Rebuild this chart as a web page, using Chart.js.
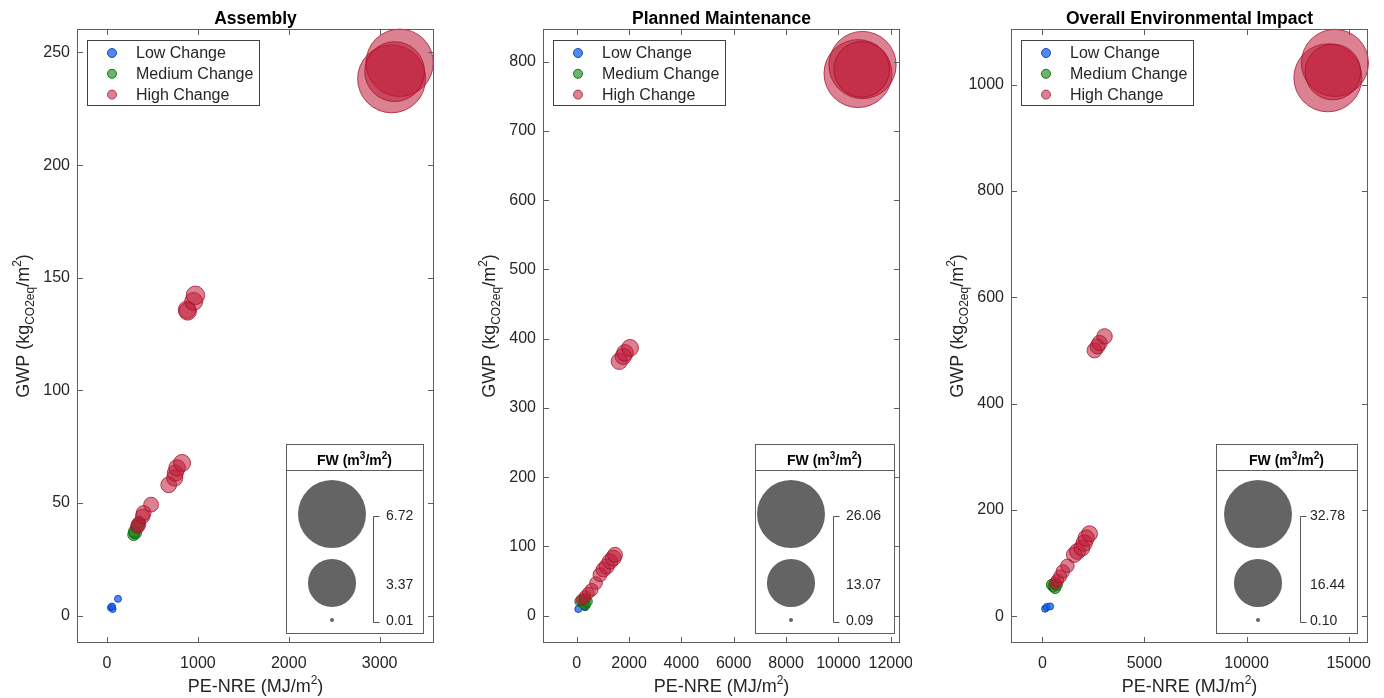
<!DOCTYPE html>
<html>
<head>
<meta charset="utf-8">
<script src="https://cdn.jsdelivr.net/npm/chart.js@4.4.1/dist/chart.umd.min.js"></script>
<style>
  body { margin: 0; background: #fff; width: 1384px; height: 698px; overflow: hidden; position: relative; }
  canvas { position: absolute; top: 0; }
</style>
</head>
<body>
<canvas id="c1" width="439" height="698" style="left:7px"></canvas>
<canvas id="c2" width="439" height="698" style="left:473px"></canvas>
<canvas id="c3" width="439" height="698" style="left:941px"></canvas>
<script>
const FONT = '"Liberation Sans", Arial, Helvetica, sans-serif';

const seriesNames = ["Low Change", "Medium Change", "High Change"];
const panelTitles = ["Assembly", "Planned Maintenance", "Overall Environmental Impact"];

// points are [PE-NRE, GWP, FW]
const asmLow = [[40, 3.6, 0.06], [62, 3.0, 0.07], [55, 4.1, 0.07], [121, 7.5, 0.07]];
const asmMedium = [[293, 36.0, 0.2], [312, 36.8, 0.22], [301, 37.4, 0.2], [330, 39.5, 0.21], [355, 41.5, 0.2]];
const asmHigh = [
  [337, 39.6, 0.28], [348, 40.6, 0.3], [392, 44.1, 0.3], [403, 45.6, 0.32], [485, 49.3, 0.32],
  [679, 58.1, 0.36], [745, 61.1, 0.38], [752, 63.3, 0.38], [771, 65.6, 0.4], [826, 67.8, 0.42],
  [881, 135.8, 0.45], [888, 135.1, 0.45], [954, 139.5, 0.47], [973, 142.2, 0.5],
  [3132, 238.3, 6.72], [3220, 245.4, 6.6], [3165, 241.5, 5.2]
];
const asmFwTicks = [6.72, 3.37, 0.01];
const asmXTicks = [0, 1000, 2000, 3000];
const asmYTicks = [0, 50, 100, 150, 200, 250];

const pmLow = [[61, 9.7, 0.28], [318, 12.5, 0.3], [290, 14.5, 0.28]];
const pmMedium = [[127, 20.7, 0.6], [254, 18.3, 0.65], [318, 15.9, 0.65], [382, 20.7, 0.7], [300, 24.0, 0.7]];
const pmHigh = [
  [191, 23.1, 0.7], [318, 27.9, 0.75], [445, 32.8, 0.8], [573, 37.5, 0.9], [738, 47.2, 0.9],
  [891, 59.2, 1.1], [1018, 66.4, 1.2], [1146, 71.2, 1.3], [1273, 78.4, 1.35], [1399, 83.3, 1.4], [1464, 88.0, 1.25],
  [1628, 367.2, 1.5], [1781, 374.4, 1.5], [1846, 379.4, 1.55], [2037, 386.6, 1.6],
  [10749, 782.7, 26.06], [10921, 795.0, 25.5], [10890, 788.7, 17.5]
];
const pmFwTicks = [26.06, 13.07, 0.09];
const pmXTicks = [0, 2000, 4000, 6000, 8000, 10000, 12000];
const pmYTicks = [0, 100, 200, 300, 400, 500, 600, 700, 800];

const oeiLow = [[133, 14.5, 0.35], [216, 17.7, 0.35], [378, 18.8, 0.35]];
const oeiMedium = [[462, 59.6, 0.85], [540, 56.4, 0.85], [624, 53.4, 0.86], [707, 59.6, 0.9]];
const oeiHigh = [
  [624, 62.8, 1.0], [737, 67.7, 1.1], [869, 75.2, 1.2], [1002, 84.6, 1.3], [1228, 95.3, 1.3],
  [1557, 116.0, 1.7], [1719, 122.3, 1.8], [1935, 128.6, 1.8], [2048, 138.0, 1.9], [2146, 147.4, 1.9], [2308, 155.5, 1.8],
  [2554, 500.3, 1.6], [2701, 507.8, 1.6], [2800, 514.2, 1.65], [3045, 526.6, 1.7],
  [13983, 1013, 32.78], [14327, 1041, 32.0], [14229, 1024, 22]
];
const oeiFwTicks = [32.78, 16.44, 0.10];
const oeiXTicks = [0, 5000, 10000, 15000];
const oeiYTicks = [0, 200, 400, 600, 800, 1000];

const seriesColors = [
  { bg: "rgba(20, 100, 230, 0.75)", border: "rgba(10, 60, 200, 0.9)" },
  { bg: "rgba(30, 140, 30, 0.65)", border: "rgba(0, 100, 0, 0.85)" },
  { bg: "rgba(190, 25, 55, 0.55)", border: "rgba(160, 15, 40, 0.75)" }
];

const MAX_R = 34;
function bubbleR(fw, fwMax) {
  return Math.max(2, MAX_R * Math.sqrt(fw / fwMax));
}

function richText(ctx, parts, x, y, size, bold, center) {
  const f = s => (bold ? "bold " : "") + s + "px " + FONT;
  let w = 0;
  const m = parts.map(([t, mode]) => {
    const s = mode ? Math.round(size * 0.68) : size;
    ctx.font = f(s);
    const tw = ctx.measureText(t).width;
    w += tw;
    return [s, tw];
  });
  let cx = center ? x - w / 2 : x;
  ctx.textAlign = "left";
  ctx.textBaseline = "alphabetic";
  parts.forEach(([t, mode], i) => {
    ctx.font = f(m[i][0]);
    const dy = mode === 1 ? -size * 0.42 : mode === -1 ? size * 0.3 : 0;
    ctx.fillText(t, cx, y + dy);
    cx += m[i][1];
  });
}

const decor = {
  id: "decor",
  afterDraw(chart, args, o) {
    const ctx = chart.ctx;
    const ca = chart.chartArea;
    const xs = chart.scales.x, ys = chart.scales.y;
    ctx.save();

    // box + inward ticks
    ctx.strokeStyle = "#5e5e5e";
    ctx.lineWidth = 1;
    ctx.strokeRect(ca.left + 0.5, ca.top + 0.5, ca.right - ca.left - 1, ca.bottom - ca.top - 1);
    ctx.beginPath();
    xs.ticks.forEach(t => {
      const px = Math.round(xs.getPixelForValue(t.value)) + 0.5;
      ctx.moveTo(px, ca.bottom); ctx.lineTo(px, ca.bottom - 6);
      ctx.moveTo(px, ca.top); ctx.lineTo(px, ca.top + 6);
    });
    ys.ticks.forEach(t => {
      const py = Math.round(ys.getPixelForValue(t.value)) + 0.5;
      ctx.moveTo(ca.left, py); ctx.lineTo(ca.left + 6, py);
      ctx.moveTo(ca.right, py); ctx.lineTo(ca.right - 6, py);
    });
    ctx.stroke();

    // titles
    const midX = (ca.left + ca.right) / 2;
    ctx.fillStyle = "#000";
    ctx.font = "bold 17.5px " + FONT;
    ctx.textAlign = "center";
    ctx.textBaseline = "alphabetic";
    ctx.fillText(o.title, midX, 24);

    ctx.fillStyle = "#262626";
    richText(ctx, [["PE-NRE (MJ/m", 0], ["2", 1], [")", 0]], midX, 692, 18, false, true);
    ctx.save();
    ctx.translate(ca.left - 48, (ca.top + ca.bottom) / 2 - 10);
    ctx.rotate(-Math.PI / 2);
    richText(ctx, [["GWP (kg", 0], ["CO2eq", -1], ["/m", 0], ["2", 1], [")", 0]], 0, 0, 18, false, true);
    ctx.restore();

    // series legend
    const lx = ca.left + 10, ly = ca.top + 11;
    ctx.fillStyle = "#fff";
    ctx.fillRect(lx, ly, 172, 65);
    ctx.strokeStyle = "#404040";
    ctx.strokeRect(lx + 0.5, ly + 0.5, 172, 65);
    chart.data.datasets.forEach((ds, i) => {
      const yy = ly + 13 + i * 20.8;
      ctx.beginPath();
      ctx.arc(lx + 25, yy, 4.5, 0, Math.PI * 2);
      ctx.fillStyle = ds.backgroundColor;
      ctx.fill();
      ctx.strokeStyle = ds.borderColor;
      ctx.stroke();
      ctx.fillStyle = "#262626";
      ctx.font = "16px " + FONT;
      ctx.textAlign = "left";
      ctx.textBaseline = "middle";
      ctx.fillText(ds.label, lx + 49, yy + 1);
    });

    // bubble size legend
    const b = o.fwBox;
    const bx = ca.left + b.x, by = ca.top + 415, bw = b.w, bh = 189;
    ctx.fillStyle = "#fff";
    ctx.fillRect(bx, by, bw, bh);
    ctx.strokeStyle = "#5e5e5e";
    ctx.strokeRect(bx + 0.5, by + 0.5, bw, bh);
    ctx.beginPath();
    ctx.moveTo(bx, by + 26.5); ctx.lineTo(bx + bw, by + 26.5);
    ctx.stroke();
    ctx.fillStyle = "#000";
    richText(ctx, [["FW (m", 0], ["3", 1], ["/m", 0], ["2", 1], [")", 0]], bx + bw / 2, by + 21, 14, true, true);

    const fwMax = o.fwTicks[0];
    const circleY = [by + 70, by + 139, by + 176];
    const labelY = [by + 72, by + 141, by + 177.5];
    o.fwTicks.forEach((v, i) => {
      ctx.beginPath();
      ctx.arc(bx + b.cx, circleY[i], bubbleR(v, fwMax), 0, Math.PI * 2);
      ctx.fillStyle = "#646464";
      ctx.fill();
      ctx.fillStyle = "#262626";
      ctx.font = "14px " + FONT;
      ctx.textAlign = "left";
      ctx.textBaseline = "middle";
      ctx.fillText(v.toFixed(2), bx + b.label, labelY[i]);
    });
    ctx.strokeStyle = "#555";
    ctx.beginPath();
    const brx = Math.round(bx + b.bracket) + 0.5;
    ctx.moveTo(brx + 6, Math.round(labelY[0]) + 0.5);
    ctx.lineTo(brx, Math.round(labelY[0]) + 0.5);
    ctx.lineTo(brx, Math.round(labelY[2]) + 0.5);
    ctx.lineTo(brx + 6, Math.round(labelY[2]) + 0.5);
    ctx.stroke();

    ctx.restore();
  }
};

function noPad(s) {
  s.paddingLeft = 0;
  s.paddingRight = 0;
  s.paddingTop = 0;
  s.paddingBottom = 0;
}

function makePanel(id, title, low, medium, high, fwTicks, xTicks, yTicks, xr, yr, fwBox) {
  const fwMax = fwTicks[0];
  const toPts = arr => arr.map(p => ({ x: p[0], y: p[1], r: bubbleR(p[2], fwMax) }));
  const sets = [low, medium, high];
  new Chart(document.getElementById(id), {
    type: "bubble",
    data: {
      datasets: sets.map((s, i) => ({
        label: seriesNames[i],
        data: toPts(s),
        backgroundColor: seriesColors[i].bg,
        borderColor: seriesColors[i].border,
        borderWidth: 1,
        order: 2 - i,
        clip: false
      }))
    },
    options: {
      responsive: false,
      animation: false,
      devicePixelRatio: 1,
      events: [],
      layout: { autoPadding: false, padding: { top: 29, right: 12, left: 0, bottom: 0 } },
      plugins: {
        legend: { display: false },
        tooltip: { enabled: false },
        decor: { title: title, fwTicks: fwTicks, fwBox: fwBox }
      },
      scales: {
        x: {
          type: "linear", min: xr[0], max: xr[1],
          grid: { display: false, drawTicks: false },
          border: { display: false },
          afterBuildTicks: s => { s.ticks = xTicks.map(v => ({ value: v })); },
          afterFit: s => { s.height = 55; noPad(s); },
          ticks: { padding: 11, color: "#262626", font: { family: FONT, size: 16 }, maxRotation: 0, callback: v => String(v) }
        },
        y: {
          type: "linear", min: yr[0], max: yr[1],
          grid: { display: false, drawTicks: false },
          border: { display: false },
          afterBuildTicks: s => { s.ticks = yTicks.map(v => ({ value: v })); },
          afterFit: s => { s.width = 70; noPad(s); },
          ticks: { padding: 7, color: "#262626", font: { family: FONT, size: 16 }, callback: v => String(v) }
        }
      }
    },
    plugins: [decor]
  });
}

makePanel("c1", panelTitles[0], asmLow, asmMedium, asmHigh, asmFwTicks, asmXTicks, asmYTicks,
  [-330, 3598], [-12.1, 260.4], { x: 209, w: 137, cx: 46, bracket: 87, label: 100 });
makePanel("c2", panelTitles[1], pmLow, pmMedium, pmHigh, pmFwTicks, pmXTicks, pmYTicks,
  [-1288, 12354], [-39.4, 847], { x: 212, w: 139, cx: 36, bracket: 78, label: 91 });
makePanel("c3", panelTitles[2], oeiLow, oeiMedium, oeiHigh, oeiFwTicks, oeiXTicks, oeiYTicks,
  [-1537, 15948], [-50, 1104.8], { x: 205, w: 141, cx: 42, bracket: 84, label: 94 });
</script>
</body>
</html>
